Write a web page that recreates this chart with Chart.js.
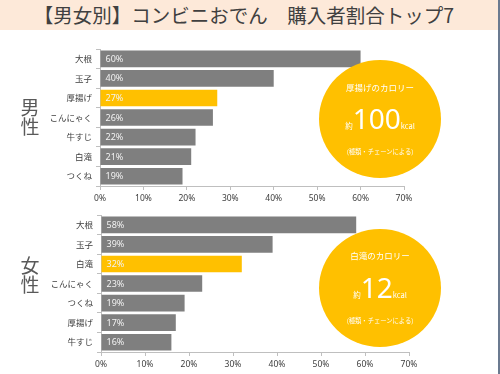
<!DOCTYPE html>
<html><head><meta charset="utf-8">
<script src="https://cdn.jsdelivr.net/npm/chart.js@4.4.0/dist/chart.umd.min.js"></script>
<style>
html,body{margin:0;padding:0;background:#fff;}
#wrap{position:relative;width:500px;height:374px;overflow:hidden;background:#fff;font-family:'Noto Sans CJK JP','Noto Sans',sans-serif;}
#band{position:absolute;left:0;top:0;width:498px;height:30px;background:#FDE9D9;}
#title{position:absolute;left:0;top:0;width:488px;height:30px;line-height:30px;text-align:center;font-size:19.5px;color:#404040;white-space:nowrap;}
#edge{position:absolute;left:498px;top:0;width:2px;height:374px;background:#6b7a90;}
.cv{position:absolute;left:0;}
.gender{position:absolute;left:18px;width:24px;font-size:19px;line-height:19px;color:#595959;text-align:center;}
.circ{position:absolute;left:319px;width:122px;height:118px;border-radius:50%;background:#FFC000;color:#fff;}
.circ div{position:absolute;left:0;width:122px;text-align:center;white-space:nowrap;}
.ct{font-size:8.5px;}
.cn{font-size:28px;font-family:'Noto Sans',sans-serif;}
.cn .s{font-size:7.5px;font-family:'Noto Sans CJK JP',sans-serif;}
.cnote{font-size:6.3px;}
</style></head>
<body><div id="wrap">
<div id="band"></div>
<div id="title">【男女別】コンビニおでん　購入者割合トップ7</div>
<div id="edge"></div>
<canvas id="c1" class="cv" width="500" height="168" style="top:40px"></canvas>
<canvas id="c2" class="cv" width="500" height="168" style="top:206px"></canvas>
<div class="gender" style="top:97px">男<br>性</div>
<div class="gender" style="top:255px">女<br>性</div>
<div class="circ" style="top:60px">
  <div class="ct" style="top:21px">厚揚げのカロリー</div>
  <div class="cn" style="top:39px">
    <span class="s">約</span>100<span class="s">kcal</span></div>
  <div class="cnote" style="top:87px">(種類・チェーンによる)</div>
</div>
<div class="circ" style="top:229px">
  <div class="ct" style="top:20px">白滝のカロリー</div>
  <div class="cn" style="top:39px">
    <span class="s">約</span>12<span class="s">kcal</span></div>
  <div class="cnote" style="top:87px">(種類・チェーンによる)</div>
</div>
</div>
<script>
const maleCategories = ['大根','玉子','厚揚げ','こんにゃく','牛すじ','白滝','つくね'];
const maleValues = [60,40,27,26,22,21,19];
const maleHighlight = '厚揚げ';
const femaleCategories = ['大根','玉子','白滝','こんにゃく','つくね','厚揚げ','牛すじ'];
const femaleValues = [58,39,32,23,19,17,16];
const femaleHighlight = '白滝';
const xTicks = [0,10,20,30,40,50,60,70];

Chart.defaults.font.family = "'Noto Sans CJK JP','Noto Sans',sans-serif";
Chart.defaults.color = '#404040';

const valueLabels = {
  id:'valueLabels',
  afterDatasetsDraw(chart){
    const ctx = chart.ctx;
    const meta = chart.getDatasetMeta(0);
    const vals = chart.data.datasets[0].data;
    ctx.save();
    ctx.font = "9px 'Noto Sans','Noto Sans CJK JP',sans-serif";
    ctx.fillStyle = '#f2f2f2';
    ctx.textAlign = 'left';
    ctx.textBaseline = 'middle';
    meta.data.forEach((bar,i)=>{ ctx.fillText(vals[i]+'%', bar.base+5, bar.y+0.5); });
    ctx.restore();
  }
};

function makeChart(id, cats, vals, hi, leftW, rightPad){
  return new Chart(document.getElementById(id), {
    type:'bar',
    data:{labels:cats, datasets:[{
      data:vals,
      backgroundColor:cats.map(c=>c===hi?'#FFC000':'#7F7F7F'),
      borderWidth:0,
      barPercentage:0.85, categoryPercentage:1.0
    }]},
    options:{
      indexAxis:'y', responsive:false, animation:false,
      layout:{padding:{top:6,right:rightPad,left:0,bottom:0}},
      plugins:{legend:{display:false},tooltip:{enabled:false}},
      scales:{
        x:{min:0,max:70,
           afterBuildTicks(s){ s.ticks = xTicks.map(v=>({value:v})); },
           afterFit(s){ s.height = 22; },
           grid:{drawOnChartArea:false,drawTicks:true,tickLength:4,color:'#bfbfbf'},
           border:{display:true,color:'#bfbfbf'},
           ticks:{font:{size:8.5,family:"'Noto Sans',sans-serif"},color:'#404040',padding:3,callback:v=>v+'%',maxRotation:0}
        },
        y:{
           afterFit(s){ s.width = leftW; },
           grid:{drawOnChartArea:false,drawTicks:true,tickLength:4,color:'#bfbfbf',offset:true},
           border:{display:true,color:'#bfbfbf'},
           ticks:{font:{size:8.5},color:'#404040',padding:4}
        }
      }
    },
    plugins:[valueLabels]
  });
}
makeChart('c1', maleCategories, maleValues, maleHighlight, 100, 96);
makeChart('c2', femaleCategories, femaleValues, femaleHighlight, 101, 91);
</script>
</body></html>
